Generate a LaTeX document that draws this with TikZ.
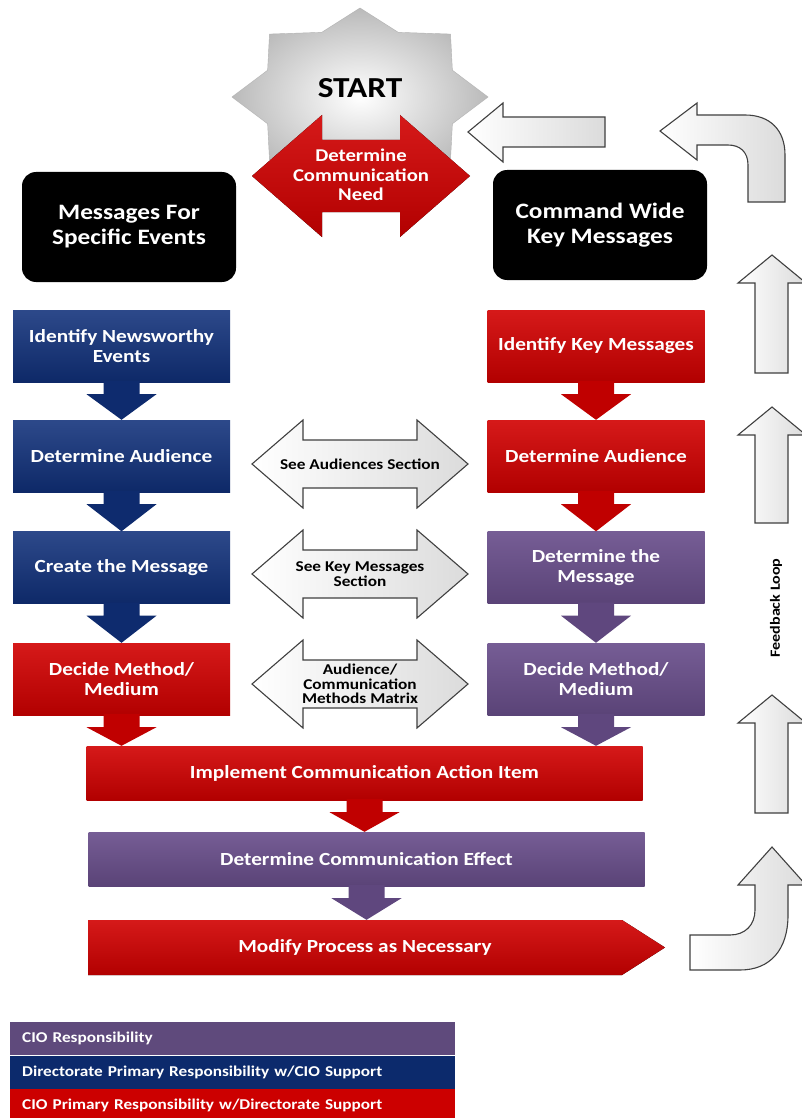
\documentclass[tikz,border=0pt]{standalone}
\usepackage{fontspec}
\setmainfont{Carlito}[FakeStretch=1.15]
\usepackage{tikz}
\usetikzlibrary{arrows.meta, positioning, calc}
\definecolor{CioRed}{HTML}{D10000}
\definecolor{CioBlue}{HTML}{10307A}
\definecolor{CioPurple}{HTML}{6A4F8C}
\definecolor{LegPurple}{HTML}{5F4A7C}
\definecolor{LegBlue}{HTML}{0C2A6C}
\definecolor{LegRed}{HTML}{CC0000}
% down arrow hanging under a box: from, to, colour
\newcommand{\flowdown}[3]{%
  \fill[#3] ($(#1.south)+(-18,-1)$) -- ($(#1.south)+(-18,12)$) -- ($(#1.south)+(-35,12)$)
    -- (#1.south |- #2.north) -- ($(#1.south)+(35,12)$) -- ($(#1.south)+(18,12)$)
    -- ($(#1.south)+(18,-1)$) -- cycle;}

\begin{document}
\begin{tikzpicture}[x=1pt, y=-1pt,
    box/.style={minimum width=217pt, minimum height=72pt, inner sep=2pt, align=center,
      text=white, font=\fontsize{18.5}{20.5}\selectfont\bfseries},
    redbox/.style={box, top color=CioRed!90!white, bottom color=CioRed!85!black},
    bluebox/.style={box, top color=CioBlue!88!white, bottom color=CioBlue!85!black},
    purplebox/.style={box, top color=CioPurple!92!white, bottom color=CioPurple!85!black},
    blackbox/.style={box, fill=black, rounded corners=14pt, minimum width=214pt,
      minimum height=110pt, font=\fontsize{22}{25}\selectfont\bfseries},
    widebox/.style={box, minimum width=556pt, minimum height=54pt},
    hollow/.style={draw=black!75, line width=1.1pt, left color=white, right color=black!14},
    sidetxt/.style={font=\fontsize{15}{14.5}\selectfont\bfseries, align=center, text=black},
    legend/.style={anchor=north west, text width=421pt, inner xsep=12pt, minimum height=33pt,
      align=left, text=white, font=\fontsize{15}{16}\selectfont\bfseries},
  ]
  \fill[white] (0,0) rectangle (801,1118);
  \useasboundingbox (0,0) rectangle (801,1118);

  % start star and the need arrow
  \shade[inner color=white, outer color=black!27, draw=black!30, shift={(360,97)}]
    (0:128 and 89) \foreach \k [evaluate=\k as \rx using {ifthenelse(mod(\k,2)==0,128,100)},
      evaluate=\k as \ry using {ifthenelse(mod(\k,2)==0,89,70)}] in {1,...,15}
      { -- ({\k*22.5}:{\rx} and {\ry}) } -- cycle;
  \node[font=\fontsize{29}{30}\selectfont\bfseries] (start) at (360,88) {START};
  \fill[top color=CioRed!90!white, bottom color=CioRed!85!black]
    (252,176) -- (322,115) -- (322,140) -- (400,140) -- (400,115) -- (470,176)
    -- (400,237) -- (400,212) -- (322,212) -- (322,237) -- cycle;
  \node[align=center, text=white, font=\fontsize{18}{19.5}\selectfont\bfseries] (need)
    at (361,175) {Determine\\Communication\\Need};

  \node[blackbox] (events) at (129,227) {Messages For\\Specific Events};
  \node[blackbox] (keymsgs) at (600,225) {Command Wide\\Key Messages};

  % left column
  \node[bluebox] (newsworthy) at (121.5,346) {Identify Newsworthy\\Events};
  \node[bluebox] (audL) at (121.5,456) {Determine Audience};
  \node[bluebox] (createmsg) at (121.5,567.5) {Create the Message};
  \node[redbox] (methodL) at (121.5,679) {Decide Method/\\Medium};
  % right column
  \node[redbox] (identkey) at (596,346) {Identify Key Messages};
  \node[redbox] (audR) at (596,456) {Determine Audience};
  \node[purplebox] (detmsg) at (596,567.5) {Determine the\\Message};
  \node[purplebox] (methodR) at (596,679) {Decide Method/\\Medium};

  \node[widebox, top color=CioRed!90!white, bottom color=CioRed!85!black] (implement)
    at (364.5,773) {Implement Communication Action Item};
  \node[widebox, top color=CioPurple!92!white, bottom color=CioPurple!85!black] (effect)
    at (366.5,859) {Determine Communication Effect};
  \fill[top color=CioRed!90!white, bottom color=CioRed!85!black]
    (88,920) -- (622,920) -- (665,947.5) -- (622,975) -- (88,975) -- cycle;
  \node[box, minimum height=55pt] (modify) at (365,947.5) {Modify Process as Necessary};

  \flowdown{newsworthy}{audL}{CioBlue!90!black}
  \flowdown{audL}{createmsg}{CioBlue!90!black}
  \flowdown{createmsg}{methodL}{CioBlue!90!black}
  \flowdown{methodL}{implement}{CioRed!92!black}
  \flowdown{identkey}{audR}{CioRed!92!black}
  \flowdown{audR}{detmsg}{CioRed!92!black}
  \flowdown{detmsg}{methodR}{CioPurple!90!black}
  \flowdown{methodR}{implement}{CioPurple!90!black}
  \flowdown{implement}{effect}{CioRed!92!black}
  \flowdown{effect}{modify}{CioPurple!90!black}

  % reference arrows between the columns
  \foreach \cy/\nm/\txt in {464/seeaud/{See Audiences Section},
      574/seekey/{See Key Messages\\Section},
      684/matrix/{Audience/\\Communication\\Methods Matrix}}{
    \draw[hollow] (252,\cy) -- (303,\cy-44) -- (303,\cy-24) -- (417,\cy-24) -- (417,\cy-44)
      -- (468,\cy) -- (417,\cy+44) -- (417,\cy+24) -- (303,\cy+24) -- (303,\cy+44) -- cycle;
    \node[sidetxt] (\nm) at (360,\cy) {\txt};
  }

  % feedback loop
  \draw[hollow] (468,132) -- (503,103) -- (503,117) -- (605,117) -- (605,147) -- (503,147)
    -- (503,162) -- cycle;
  \draw[hollow] (660,131) -- (697,103) -- (697,115) -- (745,115)
    .. controls (770,115) and (785,130) .. (785,155) -- (785,202) -- (748,202) -- (748,165)
    .. controls (748,152) and (740,145) .. (728,145) -- (697,145) -- (697,160) -- cycle;
  \foreach \tip/\bot in {255/373, 407/523, 695/813}{
    \draw[hollow] (772,\tip) -- (806,\tip+28) -- (788,\tip+28) -- (788,\bot) -- (755,\bot)
      -- (755,\tip+28) -- (738,\tip+28) -- cycle;
  }
  \draw[hollow] (772,847) -- (806,885) -- (788,885) -- (788,915)
    .. controls (788,950) and (770,970) .. (740,970) -- (690,970) -- (690,935) -- (730,935)
    .. controls (745,935) and (755,925) .. (755,910) -- (755,885) -- (738,885) -- cycle;
  \node[sidetxt, font=\fontsize{14}{15}\selectfont\bfseries, rotate=90] (fbloop)
    at (776,608) {Feedback Loop};

  % legend
  \node[legend, fill=LegPurple] (legcio) at (10,1022) {CIO Responsibility};
  \node[legend, fill=LegBlue, below=0pt of legcio] (legdir) {Directorate Primary Responsibility w/CIO Support};
  \node[legend, fill=LegRed, below=0pt of legdir] (legsup) {CIO Primary Responsibility w/Directorate Support};
\end{tikzpicture}
\end{document}
